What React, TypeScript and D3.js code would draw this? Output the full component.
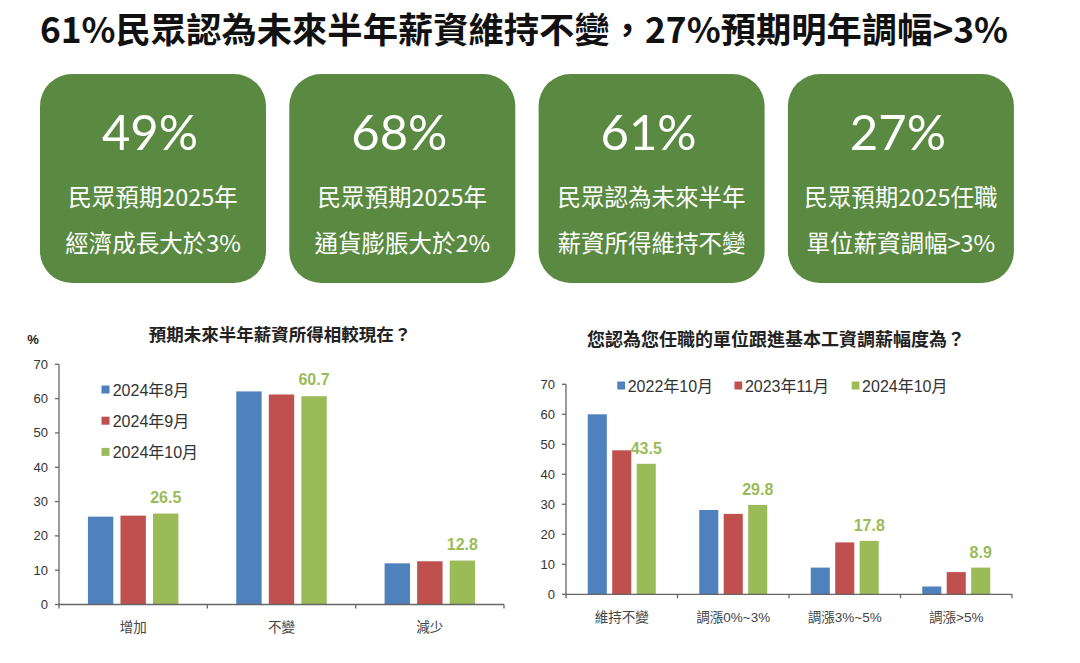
import React from "react";
import * as d3 from "d3";

// ---------- data ----------
const TITLE = "61%民眾認為未來半年薪資維持不變，27%預期明年調幅>3%";

const cardValues = ["49%", "68%", "61%", "27%"];
const cardLine1 = ["民眾預期2025年", "民眾預期2025年", "民眾認為未來半年", "民眾預期2025任職"];
const cardLine2 = ["經濟成長大於3%", "通貨膨脹大於2%", "薪資所得維持不變", "單位薪資調幅>3%"];

const leftTitle = "預期未來半年薪資所得相較現在？";
const leftCategories = ["增加", "不變", "減少"];
const leftSeries = ["2024年8月", "2024年9月", "2024年10月"];
const leftAug = [25.6, 62.1, 12.0];
const leftSep = [25.9, 61.2, 12.6];
const leftOct = [26.5, 60.7, 12.8];

const rightTitle = "您認為您任職的單位跟進基本工資調薪幅度為？";
const rightCategories = ["維持不變", "調漲0%~3%", "調漲3%~5%", "調漲>5%"];
const rightSeries = ["2022年10月", "2023年11月", "2024年10月"];
const right2022 = [60.0, 28.1, 8.9, 2.6];
const right2023 = [48.0, 26.8, 17.3, 7.4];
const right2024 = [43.5, 29.8, 17.8, 8.9];

const yTicks = [0, 10, 20, 30, 40, 50, 60, 70];

const COLORS = ["#4f81bd", "#c0504d", "#9bbb59"];
const CARD_GREEN = "#5a8a41";
const NUM_FONT = "'Liberation Sans', Arial, 'Noto Sans CJK TC', sans-serif";
const CJK_FONT = "'Noto Sans CJK TC', 'Liberation Sans', sans-serif";

type ChartProps = {
  categories: string[];
  series: string[];
  values: number[][];
  x0: number;
  x1: number;
  yBottom: number;
  yTop: number;
  labelBaseline: number;
  labelOffset: number;
};

function BarChart(p: ChartProps) {
  const xBand = d3
    .scaleBand<string>()
    .domain(p.categories)
    .range([p.x0, p.x1])
    .paddingInner(0.39)
    .paddingOuter(0.195);
  const xInner = d3
    .scaleBand<string>()
    .domain(p.series)
    .range([0, xBand.bandwidth()])
    .paddingInner(0.22)
    .paddingOuter(0);
  const y = d3.scaleLinear().domain([0, 70]).range([p.yBottom, p.yTop]);
  const step = (p.x1 - p.x0) / p.categories.length;
  const boundaries = d3.range(p.categories.length + 1).map((i) => p.x0 + i * step);
  const axisColor = "#666";

  return (
    <g>
      {p.series.map((s, si) =>
        p.categories.map((c, ci) => {
          const v = p.values[si][ci];
          const bx = (xBand(c) as number) + (xInner(s) as number);
          return (
            <rect
              key={s + c}
              x={bx}
              y={y(v)}
              width={xInner.bandwidth()}
              height={y(0) - y(v)}
              fill={COLORS[si]}
            />
          );
        })
      )}
      {p.categories.map((c, ci) => {
        const s = p.series[2];
        const v = p.values[2][ci];
        const cx = (xBand(c) as number) + (xInner(s) as number) + xInner.bandwidth() / 2;
        return (
          <text
            key={"lbl" + c}
            x={cx}
            y={y(v) - p.labelOffset}
            textAnchor="middle"
            fontFamily={NUM_FONT}
            fontWeight="bold"
            fontSize={16}
            fill="#9bbb59"
          >
            {v.toFixed(1)}
          </text>
        );
      })}
      <line x1={p.x0} x2={p.x0} y1={y(0)} y2={y(70)} stroke={axisColor} strokeWidth={1.3} />
      {yTicks.map((t) => (
        <g key={"yt" + t}>
          <line x1={p.x0 - 4} x2={p.x0} y1={y(t)} y2={y(t)} stroke={axisColor} strokeWidth={1.3} />
          <text
            x={p.x0 - 11}
            y={y(t) + 4.5}
            textAnchor="end"
            fontFamily={NUM_FONT}
            fontSize={13}
            fill="#333"
          >
            {t}
          </text>
        </g>
      ))}
      <line x1={p.x0} x2={p.x1} y1={y(0)} y2={y(0)} stroke={axisColor} strokeWidth={1.3} />
      {boundaries.map((bx, i) => (
        <line key={"xt" + i} x1={bx} x2={bx} y1={y(0)} y2={y(0) + 4} stroke={axisColor} strokeWidth={1.3} />
      ))}
      {p.categories.map((c) => (
        <text
          key={"cat" + c}
          x={(xBand(c) as number) + xBand.bandwidth() / 2}
          y={p.labelBaseline}
          textAnchor="middle"
          fontFamily={NUM_FONT}
          fontSize={13.5}
          fill="#444"
        >
          {c}
        </text>
      ))}
    </g>
  );
}

export default function App() {
  const cardW = 226;
  const cardStep = 249.3;
  const cardX0 = 40;

  return (
    <svg
      width={1080}
      height={663}
      viewBox="0 0 1080 663"
      style={{ position: "absolute", left: 0, top: 0, display: "block", background: "#fff" }}
    >
      <rect x={0} y={0} width={1080} height={663} fill="#fff" />
      <text
        x={524}
        y={43}
        textAnchor="middle"
        fontFamily={CJK_FONT}
        fontWeight="bold"
        fontSize={35.3}
        fill="#111"
      >
        {TITLE}
      </text>

      {cardValues.map((v, i) => {
        const x = cardX0 + i * cardStep;
        const cx = x + cardW / 2;
        return (
          <g key={"card" + i}>
            <rect x={x} y={74} width={cardW} height={209} rx={32} ry={32} fill={CARD_GREEN} />
            <text x={cx - 3} y={150} textAnchor="middle" fontFamily="Lato, 'Open Sans', sans-serif" fontSize={49} fill="#fff">
              {v}
            </text>
            <text x={cx} y={206} textAnchor="middle" fontFamily={CJK_FONT} fontSize={23.5} fill="#fff">
              {cardLine1[i]}
            </text>
            <text x={cx} y={252} textAnchor="middle" fontFamily={CJK_FONT} fontSize={23.5} fill="#fff">
              {cardLine2[i]}
            </text>
          </g>
        );
      })}

      <text x={280} y={341} textAnchor="middle" fontFamily={CJK_FONT} fontWeight="bold" fontSize={17.5} fill="#222">
        {leftTitle}
      </text>
      <text x={33} y={344} textAnchor="middle" fontFamily={NUM_FONT} fontWeight="bold" fontSize={13} fill="#222">
        %
      </text>
      <BarChart
        categories={leftCategories}
        series={leftSeries}
        values={[leftAug, leftSep, leftOct]}
        x0={59}
        x1={504}
        yBottom={604.5}
        yTop={364.3}
        labelBaseline={631.5}
        labelOffset={11}
      />
      {leftSeries.map((s, i) => {
        const cy = 389.5 + i * 31.2;
        return (
          <g key={"ll" + s}>
            <rect x={101.5} y={cy - 4} width={8} height={8} fill={COLORS[i]} />
            <text x={112.7} y={cy + 6} fontFamily={NUM_FONT} fontSize={16} fill="#333">
              {s}
            </text>
          </g>
        );
      })}

      <text x={776} y={346} textAnchor="middle" fontFamily={CJK_FONT} fontWeight="bold" fontSize={18} fill="#222">
        {rightTitle}
      </text>
      <BarChart
        categories={rightCategories}
        series={rightSeries}
        values={[right2022, right2023, right2024]}
        x0={566}
        x1={1012}
        yBottom={594.3}
        yTop={384.3}
        labelBaseline={621.7}
        labelOffset={10}
      />
      {rightSeries.map((s, i) => {
        const lx = 617.3 + i * 117.2;
        const cy = 385.5;
        return (
          <g key={"rl" + s}>
            <rect x={lx} y={cy - 4} width={7.7} height={8} fill={COLORS[i]} />
            <text x={lx + 10.4} y={cy + 6} fontFamily={NUM_FONT} fontSize={16} fill="#333">
              {s}
            </text>
          </g>
        );
      })}
    </svg>
  );
}
